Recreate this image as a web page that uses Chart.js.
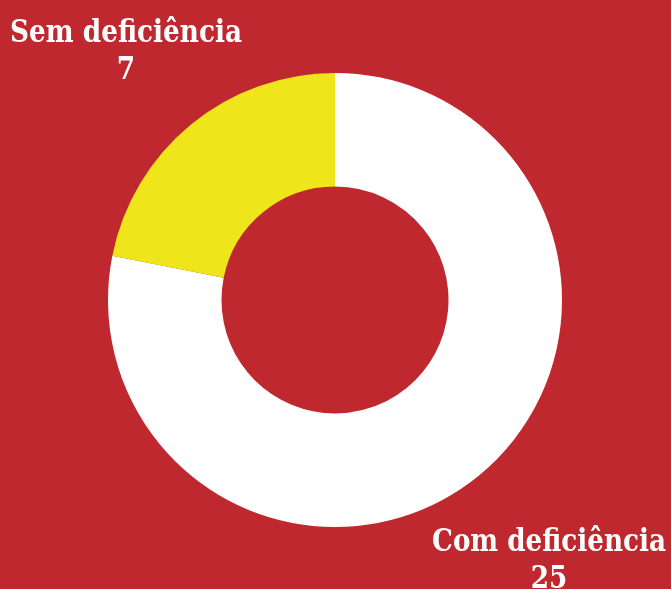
<!DOCTYPE html>
<html>
<head>
<meta charset="utf-8">
<script src="https://cdn.jsdelivr.net/npm/chart.js@4/dist/chart.umd.min.js"></script>
<style>
html,body{margin:0;padding:0;background:#BF282E;}
#wrap{width:671px;height:589px;position:relative;}
</style>
</head>
<body>
<div id="wrap"><canvas id="c" width="671" height="589"></canvas></div>
<script>
const categories = ["Com deficiência", "Sem deficiência"];
const values = [25, 7];
const colors = ["#FFFFFF", "#EEE51B"];
const background = "#BF282E";

// label anchors: centre x, baseline of name, baseline of value, target text width
const labelAnchors = [
  {x: 549, y: 551, y2: 588, w: 234},
  {x: 126, y: 42, y2: 79, w: 232}
];

const bgPlugin = {
  id: 'bg',
  beforeDraw(chart) {
    const ctx = chart.ctx;
    ctx.save();
    ctx.fillStyle = background;
    ctx.fillRect(0, 0, chart.width, chart.height);
    ctx.restore();
  }
};

const labelPlugin = {
  id: 'cornerLabels',
  afterDraw(chart) {
    const ctx = chart.ctx;
    ctx.save();
    ctx.fillStyle = '#FFFFFF';
    ctx.textAlign = 'center';
    ctx.textBaseline = 'alphabetic';
    ctx.font = 'bold 31px "DejaVu Serif", "Liberation Serif", serif';
    categories.forEach((cat, i) => {
      const a = labelAnchors[i];
      const m = ctx.measureText(cat).width;
      const s = a.w / m;
      ctx.save();
      ctx.translate(a.x, 0);
      ctx.scale(s, 1);
      ctx.fillText(cat, 0, a.y);
      ctx.fillText(String(values[i]), 0, a.y2);
      ctx.restore();
    });
    ctx.restore();
  }
};

new Chart(document.getElementById('c'), {
  type: 'doughnut',
  data: {
    labels: categories,
    datasets: [{
      data: values,
      backgroundColor: colors,
      borderWidth: 0,
      hoverOffset: 0
    }]
  },
  options: {
    responsive: false,
    animation: false,
    cutout: '50%',
    layout: {padding: {top: 73, bottom: 62, left: 0, right: 1}},
    plugins: {
      legend: {display: false},
      tooltip: {enabled: false}
    }
  },
  plugins: [bgPlugin, labelPlugin]
});
</script>
</body>
</html>
